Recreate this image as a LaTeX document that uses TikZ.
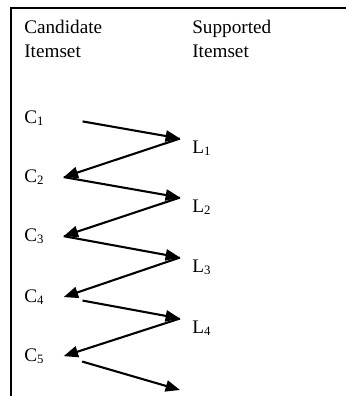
\documentclass[tikz,border=0pt]{standalone}
\usepackage{fontspec}
\setmainfont{Liberation Serif}
\usetikzlibrary{arrows.meta}
\begin{document}
\begin{tikzpicture}[x=0.625pt, y=-0.625pt,
          head/.style={anchor=base west, inner sep=0pt, align=left,
            font=\fontsize{12}{15}\selectfont},
          cand/.style={anchor=base west, inner sep=0pt, text width=24.4pt,
            align=left, font=\fontsize{12}{15}\selectfont},
          supp/.style={anchor=base west, inner xsep=7.5pt, inner ysep=1pt,
            font=\fontsize{12}{15}\selectfont},
          link/.style={line width=1.3pt, -{Triangle[length=9pt,width=7pt]}},
          late/.style={link, shorten <=12pt}]
          \useasboundingbox (0,0) rectangle (346,396);
          % open frame, top and left only
          \draw[line width=1.6pt] (346,8) -- (11,8) -- (11,396);
          % base of a two-line node sits on its last line
          \node[head] (cand) at (24,57) {Candidate\\Itemset};
          \node[head] (supp) at (192,57) {Supported\\Itemset};
          \node[cand] (C1) at (24,123) {C\textsubscript{1}};
          \node[cand] (C2) at (24,182) {C\textsubscript{2}};
          \node[cand] (C3) at (24,241) {C\textsubscript{3}};
          \node[cand] (C4) at (24,302) {C\textsubscript{4}};
          \node[cand] (C5) at (24,361) {C\textsubscript{5}};
          \node[supp] (L1) at (180,153) {L\textsubscript{1}};
          \node[supp] (L2) at (180,212) {L\textsubscript{2}};
          \node[supp] (L3) at (180,272) {L\textsubscript{3}};
          \node[supp] (L4) at (180,333) {L\textsubscript{4}};
          \coordinate (next) at (180,390);
          \draw[late] (C1.east) -- (L1.north west);
          \draw[link] (L1.north west) -- (C2.east);
          \draw[link] (C2.east) -- (L2.north west);
          \draw[link] (L2.north west) -- (C3.east);
          \draw[link] (C3.east) -- (L3.north west);
          \draw[link] (L3.north west) -- (C4.east);
          \draw[late] (C4.east) -- (L4.north west);
          \draw[link] (L4.north west) -- (C5.east);
          \draw[late] (C5.east) -- (next);
        \end{tikzpicture}
\end{document}
